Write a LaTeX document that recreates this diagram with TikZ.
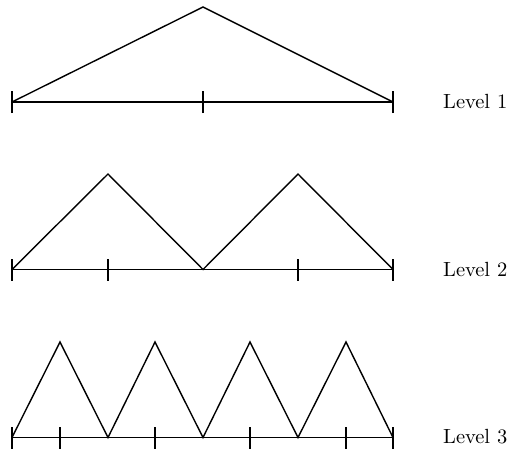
\documentclass[tikz,border=0pt]{standalone}
\newcommand{\lvtext}[1]{\scalebox{2.05}{#1}}
\begin{document}
\begin{tikzpicture}[x=1pt,y=-1pt,
  ln/.style={line width=1.4pt, line join=miter},
  tk/.style={line width=1.4pt},
  lbl/.style={anchor=west, inner sep=0pt, font=\fontsize{10}{12}\selectfont}]
\useasboundingbox (0,0) rectangle (526,450);
% Level 1
\coordinate (a0) at (12,102);
\coordinate (a1) at (203,102);
\coordinate (a2) at (393,102);
\coordinate (ap) at (203,7);
\draw[ln] (a0) -- (a2);
\draw[ln] (a0) -- (ap) -- (a2);
\foreach \p in {a0,a1,a2} \draw[tk] ([yshift=-11pt]\p) -- ([yshift=11pt]\p);
\node[lbl] (l1) at (443,101) {\lvtext{Level 1}};
% Level 2
\coordinate (b0) at (12,269.5);
\coordinate (b1) at (108,269.5);
\coordinate (b2) at (203,269.5);
\coordinate (b3) at (298,269.5);
\coordinate (b4) at (393,269.5);
\coordinate (bp1) at (108,174);
\coordinate (bp2) at (298,174);
\draw[ln] (b0) -- (b4);
\draw[ln] (b0) -- (bp1) -- (b2) -- (bp2) -- (b4);
\foreach \p in {b0,b1,b3,b4} \draw[tk] ([yshift=-11pt]\p) -- ([yshift=11pt]\p);
\node[lbl] (l2) at (443,269) {\lvtext{Level 2}};
% Level 3
\coordinate (c0) at (12,437.5);
\coordinate (c1) at (60,437.5);
\coordinate (c2) at (155,437.5);
\coordinate (c3) at (250,437.5);
\coordinate (c4) at (346,437.5);
\coordinate (c5) at (393,437.5);
\coordinate (v1) at (108,437.5);
\coordinate (v2) at (203,437.5);
\coordinate (v3) at (298,437.5);
\coordinate (p1) at (60,342);
\coordinate (p2) at (155,342);
\coordinate (p3) at (250,342);
\coordinate (p4) at (346,342);
\draw[ln] (c0) -- (c5);
\draw[ln] (c0) -- (p1) -- (v1) -- (p2) -- (v2) -- (p3) -- (v3) -- (p4) -- (c5);
\foreach \p in {c0,c1,c2,c3,c4,c5} \draw[tk] ([yshift=-11pt]\p) -- ([yshift=11pt]\p);
\node[lbl] (l3) at (443,437) {\lvtext{Level 3}};
\end{tikzpicture}
\end{document}
